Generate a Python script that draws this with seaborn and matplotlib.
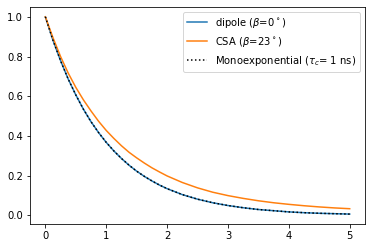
import matplotlib
matplotlib.use("Agg")
import matplotlib.pyplot as plt
import seaborn as sns
import pandas as pd

t_ns = [0.0, 0.125, 0.25, 0.375, 0.5, 0.625, 0.75, 0.875, 1.0, 1.125, 1.25, 1.375,
        1.5, 1.625, 1.75, 1.875, 2.0, 2.25, 2.5,
        2.75, 3.0, 3.25, 3.5, 3.75, 4.0, 4.25, 4.5, 4.75, 5.0]
dipole = [1.0, 0.882, 0.779, 0.687, 0.607, 0.535, 0.472, 0.417, 0.368, 0.325, 0.287, 0.253,
          0.223, 0.197, 0.174, 0.153, 0.135, 0.105, 0.082,
          0.064, 0.050, 0.039, 0.030, 0.024, 0.018, 0.014, 0.011, 0.009, 0.007]
csa = [1.0, 0.895, 0.80, 0.717, 0.645, 0.582, 0.526, 0.474, 0.428, 0.388, 0.351, 0.318,
       0.290, 0.264, 0.240, 0.219, 0.199, 0.166, 0.139,
       0.117, 0.100, 0.086, 0.074, 0.064, 0.056, 0.049, 0.043, 0.038, 0.034]
mono = [1.0, 0.882, 0.779, 0.687, 0.607, 0.535, 0.472, 0.417, 0.368, 0.325, 0.287, 0.253,
        0.223, 0.197, 0.174, 0.153, 0.135, 0.105, 0.082,
        0.064, 0.050, 0.039, 0.030, 0.024, 0.018, 0.014, 0.011, 0.009, 0.007]

labels = [r'dipole ($\beta$=0$^\circ$)', r'CSA ($\beta$=23$^\circ$)',
          r'Monoexponential ($\tau_c$= 1 ns)']

df_d = pd.DataFrame({"t": t_ns, "C": dipole})
df_c = pd.DataFrame({"t": t_ns, "C": csa})
df_m = pd.DataFrame({"t": t_ns, "C": mono})

fig = plt.figure(figsize=(372 / 72, 248 / 72), dpi=72)
ax = fig.add_axes([0.081, 0.097, 0.9, 0.875])
sns.lineplot(data=df_d, x="t", y="C", ax=ax, color="C0", label=labels[0], linewidth=1.5)
sns.lineplot(data=df_c, x="t", y="C", ax=ax, color="C1", label=labels[1], linewidth=1.5)
sns.lineplot(data=df_m, x="t", y="C", ax=ax, color="black", linestyle=":", label=labels[2], linewidth=1.5)
ax.set_xlabel("")
ax.set_ylabel("")
ax.legend(loc="upper right")
fig.savefig("out.png", dpi=72)
